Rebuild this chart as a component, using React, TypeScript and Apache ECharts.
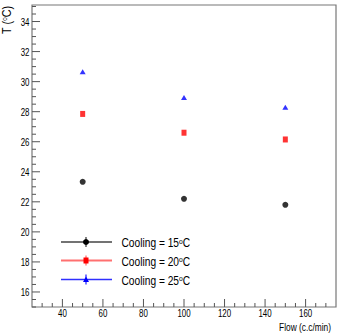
import React, { useEffect, useRef } from "react";
import * as echarts from "echarts";

const flows = [50, 100, 150];
const cool15 = [23.33, 22.2, 21.8];
const cool20 = [27.85, 26.6, 26.15];
const cool25 = [30.65, 28.95, 28.3];
const legendLabels = ["15", "20", "25"];

const xMajorTicks = [40, 60, 80, 100, 120, 140, 160];
const xMinorTicks = [30, 35, 45, 50, 55, 65, 70, 75, 85, 90, 95, 105, 110, 115, 125, 130, 135, 145, 150, 155, 165, 170];
const yMajorTicks = [16, 18, 20, 22, 24, 26, 28, 30, 32, 34];
const yMinorTicks = [15, 15.5, 16.5, 17, 17.5, 18.5, 19, 19.5, 20.5, 21, 21.5, 22.5, 23, 23.5, 24.5, 25, 25.5, 26.5, 27, 27.5, 28.5, 29, 29.5, 30.5, 31, 31.5, 32.5, 33, 33.5, 34.5, 35];

const X_MIN = 25, X_MAX = 175, Y_MIN = 15, Y_MAX = 35.1;
const FONT = "'Liberation Sans', Arial, Helvetica, sans-serif";
const NARROW = 0.72;

export default function App() {
  const ref = useRef<HTMLDivElement>(null);
  useEffect(() => {
    const chart = echarts.init(ref.current!, null, { renderer: "svg" });
    const tickColor = "#555";
    const xTickData = [
      ...xMajorTicks.map((v) => [v, 1]),
      ...xMinorTicks.map((v) => [v, 0]),
    ];
    const yTickData = [
      ...yMajorTicks.map((v) => [v, 1]),
      ...yMinorTicks.map((v) => [v, 0]),
    ];
    const legendColors = ["#000", "#ff0000", "#0000ff"];
    const lineColors = ["#444", "#ff7070", "#3030ff"];
    const legendY = [242, 260.5, 279.5];
    const legendGraphics: any[] = [];
    legendY.forEach((y, i) => {
      legendGraphics.push({
        type: "line",
        shape: { x1: 61, y1: y, x2: 112, y2: y },
        style: { stroke: lineColors[i], lineWidth: i === 1 ? 2 : 1.3 },
      });
      legendGraphics.push({
        type: "line",
        shape: { x1: 86, y1: y - 5, x2: 86, y2: y + 5 },
        style: { stroke: lineColors[i], lineWidth: 1.3 },
      });
      if (i === 0) {
        legendGraphics.push({ type: "circle", shape: { cx: 86, cy: y, r: 3 }, style: { fill: "#000" } });
      } else if (i === 1) {
        legendGraphics.push({ type: "rect", shape: { x: 83.5, y: y - 3, width: 5, height: 6 }, style: { fill: "#ff0000" } });
      } else {
        legendGraphics.push({
          type: "polygon",
          shape: { points: [[86, y - 3], [89, y + 2.5], [83, y + 2.5]] },
          style: { fill: "#0000ff" },
        });
      }
      legendGraphics.push({
        type: "text",
        x: 121.5,
        y: y + 1,
        scaleX: 0.85,
        style: {
          text: "Cooling = " + legendLabels[i] + "{sup|o}C",
          fontFamily: FONT,
          fontSize: 12,
          fill: "#000",
          verticalAlign: "middle",
          rich: { sup: { fontSize: 8, fontFamily: FONT, verticalAlign: "top", fill: "#000" } },
        },
      });
    });
    const tickRender = (dir: "x" | "y") => (params: any, api: any) => {
      const v = api.value(0);
      const major = api.value(1) === 1;
      const len = major ? 8 : 4;
      if (dir === "x") {
        const p = api.coord([v, Y_MIN]);
        return { type: "line", shape: { x1: p[0], y1: p[1], x2: p[0], y2: p[1] - len }, style: { stroke: tickColor, lineWidth: 1 } };
      }
      const p = api.coord([X_MIN, v]);
      return { type: "line", shape: { x1: p[0], y1: p[1], x2: p[0] + len, y2: p[1] }, style: { stroke: tickColor, lineWidth: 1 } };
    };
    const labelRender = (dir: "x" | "y") => (params: any, api: any) => {
      const v = api.value(0);
      if (dir === "x") {
        const p = api.coord([v, Y_MIN]);
        return {
          type: "text",
          x: p[0],
          y: p[1] + 6,
          scaleX: NARROW,
          style: { text: String(v), fontFamily: FONT, fontSize: 11, fill: "#000", align: "center", verticalAlign: "middle" },
        };
      }
      const p = api.coord([X_MIN, v]);
      return {
        type: "text",
        x: p[0] - 2.5,
        y: p[1],
        scaleX: NARROW,
        style: { text: String(v), fontFamily: FONT, fontSize: 11, fill: "#000", align: "right", verticalAlign: "middle" },
      };
    };
    chart.setOption({
      animation: false,
      backgroundColor: "#fff",
      grid: {
        left: 32,
        right: 5,
        top: 5,
        bottom: 27,
        show: true,
        borderColor: "#777",
        borderWidth: 1.2,
        backgroundColor: "transparent",
      },
      xAxis: {
        type: "value",
        min: X_MIN,
        max: X_MAX,
        interval: 5,
        splitLine: { show: false },
        axisLine: { show: false },
        axisTick: { show: false },
        axisLabel: { show: false },
      },
      yAxis: {
        type: "value",
        min: Y_MIN,
        max: Y_MAX,
        interval: 1,
        splitLine: { show: false },
        axisLine: { show: false },
        axisTick: { show: false },
        axisLabel: { show: false },
      },
      graphic: [
        {
          type: "text",
          x: 7,
          y: 20,
          rotation: Math.PI / 2,
          scaleX: 0.9,
          style: {
            text: "T ({sup|o}C)",
            fontFamily: FONT,
            fontSize: 12,
            fill: "#000",
            align: "center",
            verticalAlign: "middle",
            rich: { sup: { fontSize: 7, fontFamily: FONT, verticalAlign: "top", fill: "#000" } },
          },
        },
        {
          type: "text",
          x: 331,
          y: 327,
          scaleX: 0.76,
          style: { text: "Flow (c.c/min)", fontFamily: FONT, fontSize: 11, fill: "#000", align: "right", verticalAlign: "middle" },
        },
        ...legendGraphics,
      ],
      series: [
        { type: "custom", renderItem: tickRender("x"), data: xTickData, silent: true, z: 1 },
        { type: "custom", renderItem: tickRender("y"), data: yTickData, silent: true, z: 1 },
        { type: "custom", renderItem: labelRender("x"), data: xMajorTicks.map((v) => [v]), silent: true, z: 1 },
        { type: "custom", renderItem: labelRender("y"), data: yMajorTicks.map((v) => [v]), silent: true, z: 1 },
        {
          name: "Cooling = 15",
          type: "scatter",
          data: flows.map((f, i) => [f, cool15[i]]),
          symbol: "circle",
          symbolSize: 6,
          itemStyle: { color: legendColors[0] },
          z: 5,
        },
        {
          name: "Cooling = 20",
          type: "scatter",
          data: flows.map((f, i) => [f, cool20[i]]),
          symbol: "rect",
          symbolSize: [5, 6],
          itemStyle: { color: legendColors[1] },
          z: 5,
        },
        {
          name: "Cooling = 25",
          type: "scatter",
          data: flows.map((f, i) => [f, cool25[i]]),
          symbol: "triangle",
          symbolSize: [6, 5],
          itemStyle: { color: legendColors[2] },
          z: 5,
        },
      ],
    });
    return () => chart.dispose();
  }, []);
  return <div ref={ref} style={{ width: 341, height: 334, position: "absolute", left: 0, top: 0 }} />;
}
